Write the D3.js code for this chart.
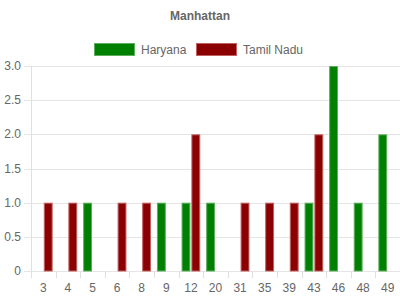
<!DOCTYPE html>
<html>
<head>
    <meta charset="utf-8">
    <title>Manhattan</title>
    <script src="https://cdnjs.cloudflare.com/ajax/libs/d3/7.8.5/d3.min.js"></script>
    <style>
        body { margin: 0; background: #fff; }
        svg { display: block; font-family: "Liberation Sans", Arial, sans-serif; }
    </style>
</head>
<body>
    <svg id="chart" width="400" height="300"></svg>
    <script>
        var categories = ["3", "4", "5", "6", "8", "9", "12", "20", "31", "35", "39", "43", "46", "48", "49"];
        var haryana = [0, 0, 1, 0, 0, 1, 1, 1, 0, 0, 0, 1, 3, 1, 2];
        var tamilNadu = [1, 1, 0, 1, 1, 0, 2, 0, 1, 1, 1, 2, 0, 0, 0];
        var yTicks = [0, 0.5, 1, 1.5, 2, 2.5, 3];

        var series = [
            { name: "Haryana", values: haryana, fill: "#008000", stroke: "#5fae5f" },
            { name: "Tamil Nadu", values: tamilNadu, fill: "#8b0000", stroke: "#c06060" }
        ];

        var svg = d3.select("#chart");
        var plotLeft = 31, plotRight = 400, plotTop = 66, plotBottom = 271;

        var x = d3.scaleBand().domain(categories).range([plotLeft, plotRight]);
        var y = d3.scaleLinear().domain([0, 3]).range([plotBottom, plotTop]);

        // title
        svg.append("text")
            .attr("x", 200).attr("y", 20)
            .attr("text-anchor", "middle")
            .attr("font-size", 12).attr("font-weight", "bold")
            .attr("fill", "#666")
            .text("Manhattan");

        // legend
        var legendX = [94, 196];
        series.forEach(function(s, i) {
            svg.append("rect")
                .attr("x", legendX[i] + 0.5).attr("y", 43.5)
                .attr("width", 40).attr("height", 12)
                .attr("fill", s.fill).attr("stroke", s.stroke);
            svg.append("text")
                .attr("x", legendX[i] + 47).attr("y", 54)
                .attr("font-size", 12).attr("fill", "#666")
                .text(s.name);
        });

        // horizontal grid
        svg.append("g").selectAll("line").data(yTicks).enter().append("line")
            .attr("x1", plotLeft - 7).attr("x2", plotRight)
            .attr("y1", d => Math.round(y(d)) + 0.5).attr("y2", d => Math.round(y(d)) + 0.5)
            .attr("stroke", "#e5e5e5");

        // y labels
        svg.append("g").selectAll("text").data(yTicks).enter().append("text")
            .attr("x", plotLeft - 10).attr("y", d => y(d) + 4)
            .attr("text-anchor", "end")
            .attr("font-size", 12).attr("fill", "#666")
            .text(d => d === 0 ? "0" : d3.format(".1f")(d));

        // y axis line
        svg.append("line")
            .attr("x1", plotLeft + 0.5).attr("x2", plotLeft + 0.5)
            .attr("y1", plotTop).attr("y2", plotBottom + 7)
            .attr("stroke", "#e0e0e0");

        // x ticks at category boundaries
        svg.append("g").selectAll("line").data(categories.slice(1)).enter().append("line")
            .attr("x1", d => Math.round(x(d)) + 0.5).attr("x2", d => Math.round(x(d)) + 0.5)
            .attr("y1", plotBottom).attr("y2", plotBottom + 7)
            .attr("stroke", "#e0e0e0");

        // x labels
        svg.append("g").selectAll("text").data(categories).enter().append("text")
            .attr("x", d => x(d) + x.bandwidth() / 2).attr("y", 292)
            .attr("text-anchor", "middle")
            .attr("font-size", 12).attr("fill", "#666")
            .text(d => d);

        // bars
        var groupW = x.bandwidth() * 0.8;
        var barW = groupW / 2 * 0.9;
        series.forEach(function(s, i) {
            svg.append("g").selectAll("rect")
                .data(categories.map((c, j) => ({ c: c, v: s.values[j] })).filter(d => d.v > 0))
                .enter().append("rect")
                .attr("x", d => x(d.c) + x.bandwidth() * 0.1 + i * groupW / 2 + (groupW / 2 - barW) / 2 + 0.5)
                .attr("y", d => y(d.v) + 0.5)
                .attr("width", barW - 1)
                .attr("height", d => y(0) - y(d.v) - 0.5)
                .attr("fill", s.fill)
                .attr("stroke", s.stroke);
        });
    </script>
</body>
</html>
